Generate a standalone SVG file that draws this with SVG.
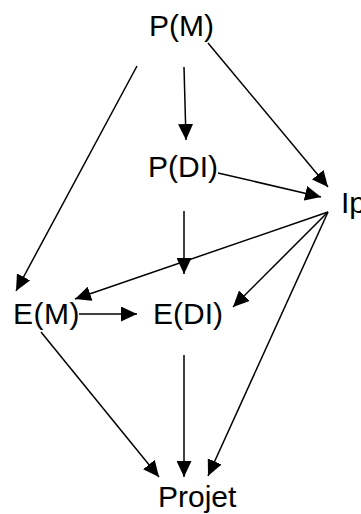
<svg xmlns="http://www.w3.org/2000/svg" width="361" height="514" viewBox="0 0 361 514">
<style>
.lbl{font-family:"Liberation Sans",Arial,sans-serif;font-size:30px;fill:#000}
.edge{stroke:#000;stroke-width:1.5;fill:none;marker-end:url(#ah)}
</style>
<defs>
<marker id="ah" markerUnits="userSpaceOnUse" markerWidth="17" markerHeight="15" refX="16" refY="7.5" orient="auto">
<path d="M0,0 L16,7.5 L0,15 z" fill="#000"/>
</marker>
</defs>
<rect width="361" height="514" fill="#fff"/>
<g id="connectors">
<line class="edge" x1="137" y1="66" x2="16" y2="291"/>
<line class="edge" x1="184" y1="67" x2="186" y2="140"/>
<line class="edge" x1="208" y1="43" x2="328" y2="187"/>
<line class="edge" x1="218" y1="173" x2="321" y2="197"/>
<line class="edge" x1="184" y1="211" x2="184" y2="274"/>
<line class="edge" x1="328" y1="212" x2="75" y2="299"/>
<line class="edge" x1="328" y1="212" x2="233" y2="307"/>
<line class="edge" x1="328" y1="212" x2="208" y2="476"/>
<line class="edge" x1="79" y1="314" x2="137" y2="314"/>
<line class="edge" x1="41" y1="332" x2="159" y2="477"/>
<line class="edge" x1="184" y1="355" x2="184" y2="477"/>
</g>
<g id="node-PM"><text class="lbl" x="149" y="36">P(M)</text></g>
<g id="node-PDI"><text class="lbl" x="148" y="177">P(DI)</text></g>
<g id="node-Ip"><text class="lbl" x="341" y="213">Ip</text></g>
<g id="node-EM"><text class="lbl" x="13" y="324" letter-spacing="0.5">E(M)</text></g>
<g id="node-EDI"><text class="lbl" x="153" y="324">E(DI)</text></g>
<g id="node-Projet"><text class="lbl" x="158" y="507">Projet</text></g>
</svg>
